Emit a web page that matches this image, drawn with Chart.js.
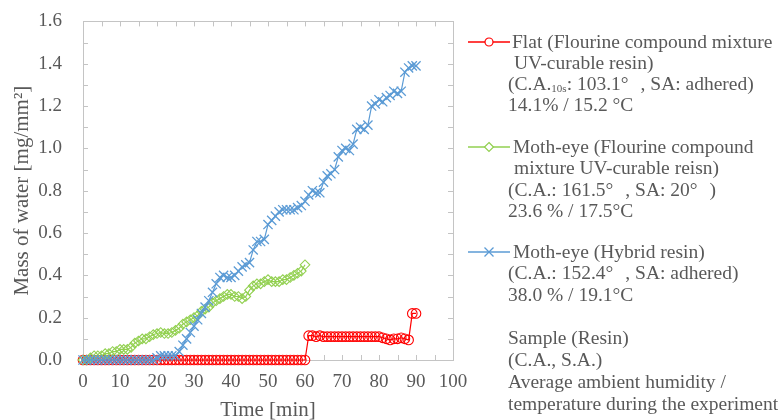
<!DOCTYPE html>
<html>
<head>
<meta charset="utf-8">
<script src="https://cdn.jsdelivr.net/npm/chart.js@4.4.1/dist/chart.umd.min.js"></script>
<style>
body { margin: 0; background: #fff; }
#wrap { position: relative; width: 778px; height: 420px; overflow: hidden; font-family: "Liberation Serif", "Times New Roman", serif; color: #595959; }
#chartBox { position: absolute; left: 0; top: -11px; width: 480px; height: 434px; }
.lg { position: absolute; font-size: 19.5px; line-height: 21.3px; white-space: nowrap; }
.sw { position: absolute; left: 468px; }
sub { font-size: 11px; vertical-align: -2px; }
.gap { display: inline-block; width: 12px; }
</style>
</head>
<body>
<div id="wrap">
  <div id="chartBox"><canvas id="waterChart"></canvas></div>

  <svg class="sw" style="top:35px" width="44" height="14"><line x1="0" y1="7" x2="42" y2="7" stroke="#ff0000" stroke-width="1.3"/><circle cx="21" cy="7" r="4" fill="#fff" stroke="#ff0000" stroke-width="1.2"/></svg>
  <div class="lg" style="left:512px; top:31px">Flat (Flourine compound mixture</div>
  <div class="lg" style="left:514px; top:52px">UV-curable resin)</div>
  <div class="lg" style="left:508px; top:73px">(C.A.<sub>10s</sub>: 103.1°<span class="gap"></span>, SA: adhered)</div>
  <div class="lg" style="left:508px; top:94px">14.1% / 15.2 °C</div>

  <svg class="sw" style="top:140px" width="44" height="14"><line x1="0" y1="7" x2="42" y2="7" stroke="#92d050" stroke-width="1.3"/><polygon points="21,2.5 25.5,7 21,11.5 16.5,7" fill="#fff" stroke="#92d050" stroke-width="1.2"/></svg>
  <div class="lg" style="left:513px; top:136px">Moth-eye (Flourine compound</div>
  <div class="lg" style="left:514px; top:157px">mixture UV-curable reisn)</div>
  <div class="lg" style="left:508px; top:179px">(C.A.: 161.5°<span class="gap"></span>, SA: 20°<span class="gap"></span>)</div>
  <div class="lg" style="left:508px; top:200px">23.6 % / 17.5°C</div>

  <svg class="sw" style="top:245px" width="44" height="14"><line x1="0" y1="7" x2="42" y2="7" stroke="#5b9bd5" stroke-width="1.3"/><path d="M16.5 2.5 L25.5 11.5 M25.5 2.5 L16.5 11.5" stroke="#5b9bd5" stroke-width="1.3"/></svg>
  <div class="lg" style="left:513px; top:241px">Moth-eye (Hybrid resin)</div>
  <div class="lg" style="left:508px; top:262px">(C.A.: 152.4°<span class="gap"></span>, SA: adhered)</div>
  <div class="lg" style="left:508px; top:284px">38.0 % / 19.1°C</div>

  <div class="lg" style="left:508px; top:327px; line-height:22px">Sample (Resin)<br>(C.A., S.A.)<br>Average ambient humidity /<br>temperature during the experiment</div>
</div>

<script>
// time axis [min]
const timeMin = [0,1,2,3,4,5,6,7,8,9,10,11,12,13,14,15,16,17,18,19,20,21,22,23,24,25,26,27,28,29,30,
  31,32,33,34,35,36,37,38,39,40,41,42,43,44,45,46,47,48,49,50,51,52,53,54,55,56,57,58,59,60,
  61,62,63,64,65,66,67,68,69,70,71,72,73,74,75,76,77,78,79,80,81,82,83,84,85,86,87,88,89,90];

// Flat (fluorine compound mixture UV-curable resin), 0-90 min
const flatMass = [0,0,0,0,0,0,0,0,0,0,0,0,0,0,0,0,0,0,0,0,0,0,0,0,0,0,0,0,0,0,0,
  0,0,0,0,0,0,0,0,0,0,0,0,0,0,0,0,0,0,0,0,0,0,0,0,0,0,0,0,0,0,
  0.115,0.115,0.11,0.115,0.11,0.11,0.11,0.11,0.11,0.11,0.11,0.11,0.11,0.11,0.11,0.11,0.11,0.11,0.11,0.11,
  0.105,0.10,0.095,0.10,0.10,0.105,0.10,0.095,0.22,0.22];

// Moth-eye (fluorine compound mixture UV-curable resin), 0-60 min
const mothFluorMass = [0,0,0.01,0.02,0.02,0.02,0.03,0.03,0.04,0.04,
  0.05,0.05,0.05,0.06,0.08,0.09,0.10,0.10,0.11,0.12,
  0.125,0.13,0.125,0.125,0.13,0.14,0.15,0.17,0.18,0.19,
  0.20,0.21,0.23,0.24,0.25,0.27,0.28,0.29,0.30,0.31,
  0.31,0.30,0.30,0.29,0.30,0.33,0.35,0.36,0.36,0.37,
  0.38,0.37,0.37,0.37,0.38,0.38,0.39,0.40,0.41,0.42,0.45];

// Moth-eye (hybrid resin), 0-90 min
const mothHybridMass = [0,0,0,0,0,0,0,0,0,0,0,0,0,0,0,0,0,0,0,0,
  0.01,0.02,0.02,0.02,0.02,0.02,0.04,0.07,0.10,0.13,
  0.16,0.19,0.22,0.25,0.28,0.32,0.36,0.39,0.40,0.39,
  0.39,0.40,0.42,0.44,0.45,0.46,0.52,0.56,0.56,0.57,
  0.64,0.66,0.68,0.70,0.71,0.71,0.71,0.71,0.72,0.73,
  0.75,0.78,0.80,0.79,0.79,0.84,0.87,0.88,0.90,0.96,
  0.99,1.00,0.99,1.02,1.09,1.10,1.09,1.11,1.20,1.21,
  1.23,1.22,1.24,1.25,1.27,1.26,1.27,1.36,1.38,1.39,1.39];

function toPoints(values) {
    return values.map(function(v, i) { return { x: timeMin[i], y: v }; });
}

// box around the plot area with small inward tick marks, like the original
const frameTicks = {
    id: 'frameTicks',
    beforeDatasetsDraw(chart) {
        const ctx = chart.ctx;
        const a = chart.chartArea;
        const xs = chart.scales.x, ys = chart.scales.y;
        ctx.save();
        ctx.strokeStyle = '#c4c4c4';
        ctx.lineWidth = 1;
        ctx.strokeRect(Math.round(a.left) + 0.5, Math.round(a.top) + 0.5, Math.round(a.right - a.left), Math.round(a.bottom - a.top));
        ctx.beginPath();
        for (let v = 5; v < 100; v += 5) {
            const px = Math.round(xs.getPixelForValue(v)) + 0.5;
            ctx.moveTo(px, a.top); ctx.lineTo(px, a.top + 5);
            ctx.moveTo(px, a.bottom); ctx.lineTo(px, a.bottom - 5);
        }
        for (let k = 1; k < 16; k++) {
            const py = Math.round(ys.getPixelForValue(k / 10)) + 0.5;
            ctx.moveTo(a.left, py); ctx.lineTo(a.left + 5, py);
            ctx.moveTo(a.right, py); ctx.lineTo(a.right - 5, py);
        }
        ctx.stroke();
        ctx.restore();
    }
};

const tickFont = { family: "'Liberation Serif', 'Times New Roman', serif", size: 19 };
const titleFont = { family: "'Liberation Serif', 'Times New Roman', serif", size: 21 };

const ctx = document.getElementById('waterChart').getContext('2d');
const waterChart = new Chart(ctx, {
    type: 'line',
    data: {
        datasets: [{
            label: 'Flat',
            data: toPoints(flatMass),
            borderColor: '#ff0000',
            borderWidth: 1.2,
            pointStyle: 'circle',
            pointRadius: 4.8,
            pointBorderWidth: 1.1,
            pointBackgroundColor: 'rgba(255,255,255,0)',
            pointBorderColor: '#ff0000',
            order: 3,
            clip: false
        }, {
            label: 'Moth-eye (Flourine)',
            data: toPoints(mothFluorMass),
            borderColor: '#92d050',
            borderWidth: 1.2,
            pointStyle: 'rectRot',
            pointRadius: 4.8,
            pointBorderWidth: 1.1,
            pointBackgroundColor: 'rgba(255,255,255,0)',
            pointBorderColor: '#92d050',
            order: 2,
            clip: false
        }, {
            label: 'Moth-eye (Hybrid)',
            data: toPoints(mothHybridMass),
            borderColor: '#5b9bd5',
            borderWidth: 1.2,
            pointStyle: 'crossRot',
            pointRadius: 6.5,
            pointBorderWidth: 1.3,
            pointBorderColor: '#5b9bd5',
            order: 1,
            clip: false
        }]
    },
    options: {
        responsive: true,
        maintainAspectRatio: false,
        animation: false,
        layout: { padding: { left: 10, right: 27, top: 0, bottom: 0 } },
        scales: {
            x: {
                type: 'linear',
                min: 0,
                max: 100,
                grid: { display: false, drawTicks: false },
                border: { display: false },
                ticks: { stepSize: 10, color: '#595959', font: tickFont, padding: 11, maxRotation: 0 },
                title: { display: true, text: 'Time [min]', color: '#595959', font: titleFont, padding: 0 },
                afterFit: function(scale) { scale.height = 63; }
            },
            y: {
                min: 0,
                max: 1.6,
                grid: { display: false, drawTicks: false },
                border: { display: false },
                ticks: {
                    stepSize: 0.2,
                    color: '#595959',
                    font: tickFont,
                    padding: 21,
                    callback: function(value) { return value.toFixed(1); }
                },
                title: { display: true, text: 'Mass of water [mg/mm²]', color: '#595959', font: titleFont, padding: 0 },
                afterFit: function(scale) { scale.width = 73; }
            }
        },
        plugins: {
            legend: { display: false },
            tooltip: { enabled: false }
        }
    },
    plugins: [frameTicks]
});
</script>
</body>
</html>
